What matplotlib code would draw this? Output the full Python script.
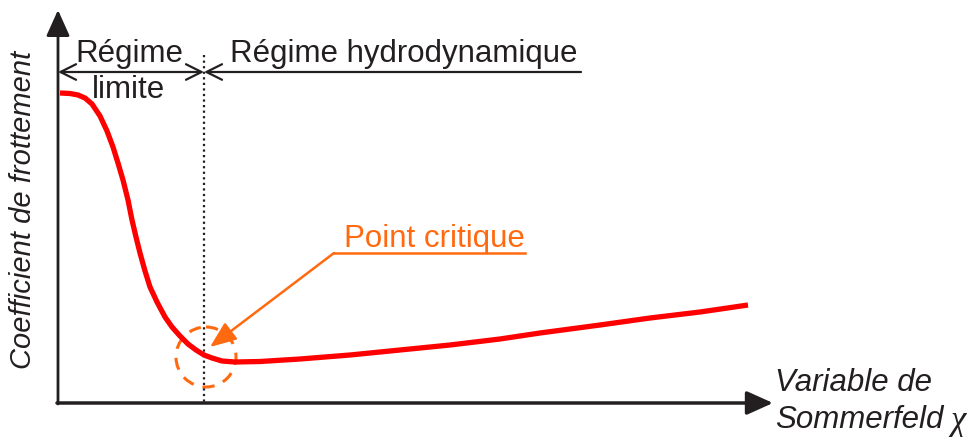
import matplotlib
matplotlib.use("Agg")
import matplotlib.pyplot as plt
import matplotlib.patches as mpatches

plt.rcParams["font.family"] = ["Liberation Sans", "DejaVu Sans"]

# friction curve (pixel-like units, y grows downward)
curve_x = [60, 70, 78, 85, 92, 100, 107, 113, 118, 123, 128, 132, 136, 140,
           145, 150, 157, 165, 172, 180, 188, 196, 204, 212, 222, 235, 260,
           300, 350, 400, 450, 500, 540, 600, 650, 700, 748]
curve_y = [93, 93.5, 95, 98, 104, 116, 131, 147, 163, 180, 200, 220, 237, 253,
           271, 287, 302, 317, 327, 336, 344, 350, 355, 358, 361, 362, 361.5,
           359, 355, 350, 345, 339, 333, 325, 318, 312, 305]

x_origin, y_origin = 58, 403
x_split = 204            # limit between the two regimes
critical_pt = (206, 357)

RED = "#ff0000"
ORANGE = "#ff6a10"
INK = "#231f20"
FS = 22.5

fig = plt.figure(figsize=(9.73, 4.37), dpi=100)
ax = fig.add_axes([0, 0, 1, 1])
ax.set_xlim(0, 973)
ax.set_ylim(437, 0)
ax.axis("off")

# axes with arrows
ax.annotate("", xy=(x_origin, 10), xytext=(x_origin, y_origin + 1),
            arrowprops=dict(arrowstyle="-|>,head_length=1.0,head_width=0.45",
                            color=INK, lw=2, shrinkA=0, shrinkB=0,
                            mutation_scale=16))
ax.annotate("", xy=(773, y_origin), xytext=(x_origin - 1, y_origin),
            arrowprops=dict(arrowstyle="-|>,head_length=1.0,head_width=0.45",
                            color=INK, lw=2.5, shrinkA=0, shrinkB=0,
                            mutation_scale=16))

# regime separator
ax.plot([x_split, x_split], [55, y_origin], color=INK, lw=1.6, ls=(0, (1, 1.5)))

# regime arrows
ax.annotate("", xy=(x_origin, 72), xytext=(x_split, 72),
            arrowprops=dict(arrowstyle="<->,head_length=0.7,head_width=0.35",
                            color=INK, lw=1.6, shrinkA=0, shrinkB=0,
                            mutation_scale=16))
ax.annotate("", xy=(x_split, 72), xytext=(581, 72),
            arrowprops=dict(arrowstyle="->,head_length=0.7,head_width=0.35",
                            color=INK, lw=1.6, shrinkA=0, shrinkB=0,
                            mutation_scale=16))
ax.text(129, 54, "Régime", fontsize=FS, color=INK, ha="center", va="center")
ax.text(129, 90, "limite", fontsize=FS, color=INK, ha="center", va="center")
ax.text(404, 54, "Régime hydrodynamique", fontsize=FS, color=INK,
        ha="center", va="center")

# friction curve
ax.plot(curve_x, curve_y, color=RED, lw=3.8, solid_capstyle="butt",
        solid_joinstyle="round")

# critical point
ax.add_patch(mpatches.Circle(critical_pt, 30, fill=False, ec=ORANGE, lw=2.2,
                             ls=(0, (4, 3))))
ax.plot([334, 525], [253, 253], color=ORANGE, lw=1.8)
ax.annotate("", xy=(210, 347), xytext=(334, 253),
            arrowprops=dict(arrowstyle="-|>,head_length=1.0,head_width=0.4",
                            color=ORANGE, lw=1.8, shrinkA=0, shrinkB=0,
                            mutation_scale=16))
ax.text(434, 239, "Point critique", fontsize=FS, color=ORANGE,
        ha="center", va="center")

# axis labels
ax.text(23, 210, "Coefficient de frottement", fontsize=21, color=INK,
        style="italic", rotation=90, ha="center", va="center")
ax.text(775, 383, "Variable de", fontsize=FS, color=INK, style="italic",
        ha="left", va="center")
ax.text(775, 420, "Sommerfeld", fontsize=FS, color=INK, style="italic",
        ha="left", va="center")
ax.text(951, 422, "χ", fontsize=25, color=INK, style="italic",
        family=["Liberation Serif", "DejaVu Serif"], ha="left", va="center")

fig.savefig("out.png", dpi=100)
